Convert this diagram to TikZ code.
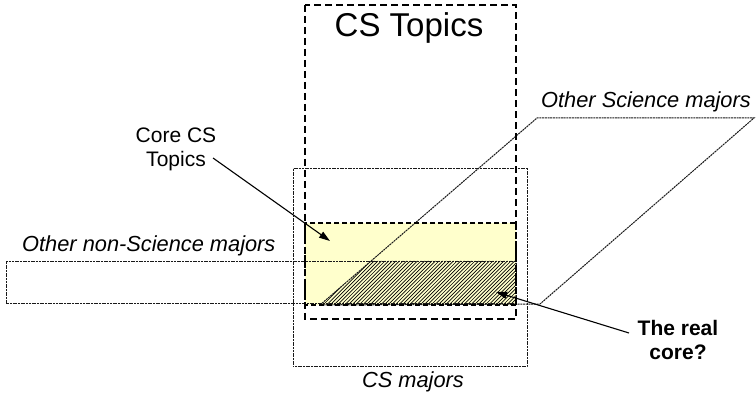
\documentclass[tikz,border=0pt]{standalone}
\usepackage{fontspec}
\setmainfont{Liberation Sans}
\usetikzlibrary{arrows.meta}
\definecolor{corefill}{RGB}{255,255,204}
\tikzset{
  thinbox/.style={draw=black!90, line width=1pt, dash pattern=on 2pt off 0.7pt},
  topicsbox/.style={draw=black, line width=2.2pt, dash pattern=on 7pt off 4pt},
  corebox/.style={draw=black, line width=1.2pt, dash pattern=on 5pt off 3pt},
  callout/.style={draw=black, line width=1.1pt, -{Triangle[length=11pt,width=7pt]}},
  ital/.style={font=\fontsize{21.8}{24}\selectfont\itshape, inner sep=0pt},
  plain/.style={font=\fontsize{21}{24}\selectfont, inner sep=0pt, align=center},
  boldlbl/.style={font=\fontsize{21}{24}\selectfont\bfseries, inner sep=0pt, align=center}
}
\begin{document}
\begin{tikzpicture}[x=1pt,y=-1pt]
\useasboundingbox (0,0) rectangle (756,398);
% core CS topics fill
\fill[corefill] (305,223) rectangle (516,305);
% hatched real core
\begin{scope}
  \clip (320,305) -- (371,261) -- (516,261) -- (516,305) -- cycle;
  \foreach \i in {0,3.6,...,260} {
    \draw[line width=0.7pt] (300+\i,310) -- (300+\i+60,250);
  }
\end{scope}
% other non-science majors band
\draw[thinbox] (6,262) rectangle (516,304);
% other science majors parallelogram
\draw[thinbox] (320,305) -- (537,118) -- (754,118) -- (540,304) -- cycle;
% CS majors
\draw[thinbox] (293,169) rectangle (527,367);
% core CS topics box
\draw[corebox] (305,223) rectangle (516,305);
% CS topics box
\draw[topicsbox] (305,5) rectangle (516,319);
% labels
\node[inner sep=0pt] (topics) at (409,28) {\fontsize{33}{36}\selectfont CS Topics};
\node[ital, anchor=east] (sci) at (751,102) {Other Science majors};
\node[ital, anchor=west] (nonsci) at (22,246) {Other non-Science majors};
\node[ital] (majors) at (413,382) {CS majors};
\node[plain] (corelbl) at (176,149) {Core CS\\Topics};
\node[boldlbl] (real) at (678,340) {The real\\core?};
% callouts
\coordinate (coretip) at (330,241);
\coordinate (realtip) at (496,292);
\draw[callout] (213,158) -- (coretip);
\draw[callout] (629,333) -- (realtip);
\end{tikzpicture}
\end{document}
